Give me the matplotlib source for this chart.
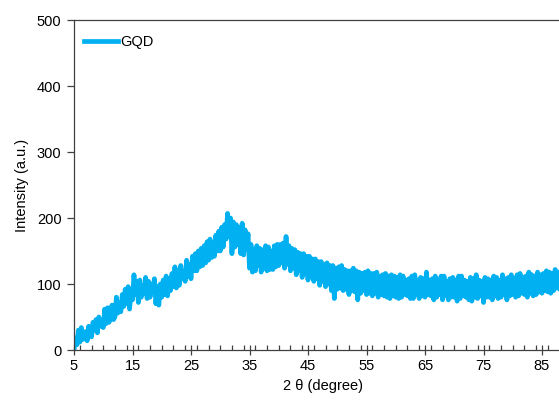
import numpy as np
import matplotlib
matplotlib.use("Agg")
import matplotlib.pyplot as plt
from matplotlib.ticker import MultipleLocator

plt.rcParams['font.family'] = ['Liberation Sans', 'DejaVu Sans']

# 2-theta start and step (degrees) of the scan
two_theta_start = 5.0
two_theta_step = 0.25

# Intensity values (a.u.), one per step, 4 per degree
intensity = [
    0, 18, 8, 30,       # 5
    12, 34, 16, 24,     # 6
    28, 14, 36, 22,     # 7
    20, 42, 30, 46,     # 8
    26, 50, 36, 44,     # 9
    34, 62, 40, 64,     # 10
    42, 58, 68, 46,     # 11
    50, 80, 56, 72,     # 12
    58, 84, 66, 92,     # 13
    70, 96, 62, 88,     # 14
    76, 114, 84, 104,   # 15
    72, 106, 80, 98,    # 16
    86, 110, 78, 104,   # 17
    80, 100, 88, 108,   # 18
    70, 96, 68, 100,    # 19
    80, 106, 84, 112,   # 20
    82, 108, 90, 116,   # 21
    96, 126, 94, 120,   # 22
    98, 128, 108, 118,  # 23
    104, 136, 112, 130, # 24
    108, 142, 120, 146, # 25
    120, 150, 126, 154, # 26
    128, 158, 132, 164, # 27
    136, 168, 140, 162, # 28
    142, 174, 150, 180, # 29
    150, 186, 156, 190, # 30
    168, 207, 172, 200, # 31
    146, 194, 156, 190, # 32
    160, 186, 146, 192, # 33
    144, 182, 152, 176, # 34
    124, 160, 118, 152, # 35
    120, 158, 128, 154, # 36
    118, 152, 124, 158, # 37
    120, 156, 122, 150, # 38
    122, 158, 126, 160, # 39
    128, 160, 132, 162, # 40
    124, 172, 130, 158, # 41
    120, 154, 124, 152, # 42
    114, 148, 120, 146, # 43
    110, 146, 116, 142, # 44
    106, 142, 112, 138, # 45
    104, 138, 108, 134, # 46
    98, 134, 104, 130,  # 47
    96, 132, 100, 128,  # 48
    90, 128, 78, 124,   # 49
    92, 126, 94, 128,   # 50
    90, 122, 92, 120,   # 51
    84, 120, 90, 124,   # 52
    88, 120, 76, 118,   # 53
    86, 116, 90, 118,   # 54
    84, 120, 86, 116,   # 55
    82, 116, 86, 118,   # 56
    80, 112, 84, 114,   # 57
    82, 116, 80, 112,   # 58
    78, 114, 82, 112,   # 59
    80, 110, 78, 114,   # 60
    80, 112, 84, 106,   # 61
    82, 108, 78, 112,   # 62
    78, 114, 84, 106,   # 63
    78, 110, 82, 108,   # 64
    80, 118, 84, 106,   # 65
    82, 108, 76, 112,   # 66
    80, 106, 84, 112,   # 67
    76, 112, 82, 104,   # 68
    76, 108, 80, 110,   # 69
    80, 106, 74, 112,   # 70
    78, 112, 82, 106,   # 71
    80, 104, 76, 110,   # 72
    74, 108, 80, 114,   # 73
    78, 106, 82, 104,   # 74
    72, 110, 80, 108,   # 75
    80, 106, 76, 112,   # 76
    82, 110, 78, 106,   # 77
    80, 114, 84, 108,   # 78
    76, 110, 82, 114,   # 79
    84, 108, 80, 114,   # 80
    82, 116, 86, 110,   # 81
    84, 112, 80, 118,   # 82
    86, 114, 82, 112,   # 83
    84, 118, 88, 114,   # 84
    86, 116, 90, 120,   # 85
    88, 118, 86, 116,   # 86
    90, 122, 94, 118,   # 87
    92, 124, 96, 120,   # 88
]
two_theta = two_theta_start + two_theta_step * np.arange(len(intensity))

series_label = "GQD"
x_ticks = [5, 15, 25, 35, 45, 55, 65, 75, 85]
y_ticks = [0, 100, 200, 300, 400, 500]

fig = plt.figure(figsize=(5.59, 4.03), dpi=100)
ax = fig.add_axes([74 / 559, 53 / 403, 497.25 / 559, 330 / 403])

ax.plot(two_theta, intensity, color='#00B0F0', lw=3.4, solid_joinstyle='round',
        label=series_label)

ax.set_xlim(5, 90)
ax.set_ylim(0, 500)
ax.set_xticks(x_ticks)
ax.set_yticks(y_ticks)
ax.xaxis.set_minor_locator(MultipleLocator(2))

spine_col = '#404040'
for s in ['left', 'bottom', 'top', 'right']:
    ax.spines[s].set_color(spine_col)
    ax.spines[s].set_linewidth(0.9)

ax.tick_params(axis='x', which='major', direction='inout', length=7, width=0.9,
               color=spine_col, labelsize=10.5, pad=3)
ax.tick_params(axis='x', which='minor', direction='in', length=3.5, width=0.9,
               color=spine_col)
ax.tick_params(axis='y', which='major', direction='out', length=5, width=0.9,
               color=spine_col, labelsize=10.5, pad=4)
ax.tick_params(top=False, right=False)

ax.set_xlabel("2 θ (degree)", fontsize=10.5, labelpad=4)
ax.set_ylabel("Intensity (a.u.)", fontsize=10.5, labelpad=6)

ax.legend(loc='upper left', frameon=False, fontsize=10.5, handlelength=2.3,
          handletextpad=0.15, borderaxespad=0.3, bbox_to_anchor=(0.0, 0.985))

fig.savefig("out.png", dpi=100)
